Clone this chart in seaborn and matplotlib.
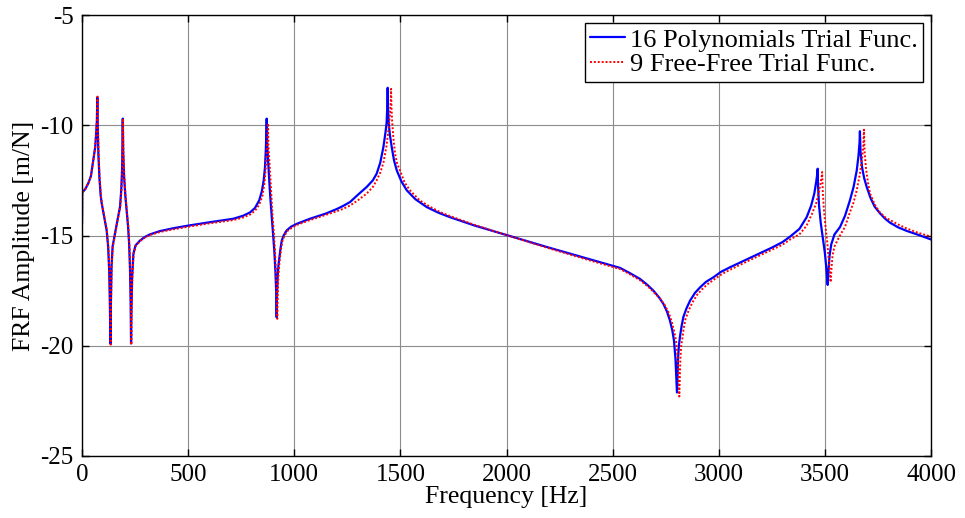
import matplotlib
matplotlib.use("Agg")
import matplotlib.pyplot as plt
import seaborn as sns
import pandas as pd

# ---- data ----
poly_freq = [0, 1, 15, 30, 42, 53, 62, 67, 70, 72, 74, 77, 82, 88, 93, 105, 116, 123, 128, 131, 134,
             136, 139, 144, 155, 167, 179, 185, 189, 192, 194, 198, 204, 210, 217, 222, 226, 229,
             231, 233, 236, 242, 252, 273, 295, 320, 367, 430, 501, 600, 713, 760, 792, 815, 835,
             847, 856, 862, 866, 869, 870, 872, 876, 883, 888, 894, 900, 906, 911, 915, 917, 919,
             922, 926, 930, 935, 941, 950, 964, 985, 1012, 1074, 1150, 1200, 1230, 1263, 1300, 1341,
             1370, 1388, 1405, 1420, 1430, 1435, 1438, 1440, 1442, 1445, 1450, 1459, 1470, 1483,
             1505, 1530, 1570, 1624, 1680, 1734, 1850, 2000, 2200, 2400, 2535, 2580, 2629, 2665,
             2692, 2718, 2739, 2756, 2770, 2781, 2789, 2796, 2803, 2808, 2812, 2817, 2825, 2833,
             2848, 2865, 2888, 2912, 2940, 2974, 3010, 3053, 3150, 3250, 3300, 3336, 3380, 3414, 3435,
             3450, 3460, 3464, 3466, 3468, 3472, 3480, 3490, 3500, 3507, 3513, 3517, 3522, 3530,
             3545, 3571, 3595, 3618, 3635, 3650, 3658, 3663, 3665, 3668, 3675, 3685, 3697, 3715,
             3735, 3760, 3785, 3807, 3845, 3885, 3940, 4000]
poly_amp = [-14.45, -13.05, -12.9, -12.62, -12.3, -11.6, -11.0, -10.3, -9.8, -8.74, -10.0, -11.3,
            -12.4, -13.2, -13.56, -14.2, -14.77, -15.5, -16.6, -18.0, -19.9, -18.0, -16.4, -15.5,
            -14.92, -14.3, -13.7, -12.9, -11.9, -9.7, -11.2, -12.3, -13.2, -13.86, -14.6, -15.4,
            -16.5, -18.0, -19.9, -18.3, -16.9, -15.83, -15.45, -15.23, -15.07, -14.95, -14.8,
            -14.67, -14.55, -14.4, -14.24, -14.1, -13.95, -13.75, -13.4, -13.0, -12.5, -11.9,
            -11.1, -10.2, -9.7, -10.8, -11.5, -12.65, -13.4, -14.17, -14.9, -15.7, -16.6, -17.6,
            -18.71, -17.6, -16.8, -16.3, -15.98, -15.6, -15.23, -15.0, -14.77, -14.6, -14.47,
            -14.24, -14.0, -13.8, -13.66, -13.48, -13.15, -12.8, -12.5, -12.2, -11.7, -10.98, -10.3,
            -9.9, -9.2, -8.3, -9.3, -9.9, -10.4, -10.98, -11.6, -12.05, -12.55, -12.95, -13.35,
            -13.71, -13.97, -14.17, -14.55, -14.98, -15.55, -16.1, -16.47, -16.7, -16.97, -17.25,
            -17.5, -17.8, -18.1, -18.45, -18.86, -19.3, -19.77, -20.6, -22.12, -20.6, -20.0,
            -19.6, -19.1, -18.7, -18.3, -17.95, -17.6, -17.35, -17.1, -16.9, -16.65, -16.44,
            -16.0, -15.55, -15.3, -15.05, -14.7, -14.17, -13.65, -13.1, -12.5, -12.2, -11.97, -12.8,
            -13.6, -14.4, -15.1, -15.8, -16.5, -17.24, -16.6, -15.9, -15.4, -14.95, -14.62, -14.1,
            -13.4, -12.8, -12.05, -11.4, -10.8, -10.27, -11.2, -11.9, -12.4, -12.8, -13.3,
            -13.7, -14.0, -14.25, -14.42, -14.63, -14.79, -14.97, -15.18]

ff_freq = [0, 1, 15, 30, 42, 53, 62, 67, 70, 73, 75, 78, 83, 89, 94, 106, 117, 124, 129, 132, 135,
           137, 140, 145, 156, 168, 180, 186, 190, 193, 195, 199, 205, 211, 218, 223, 227, 230,
           232, 234, 237, 243, 253, 274, 295, 320, 367, 430, 501, 600, 713, 760, 792, 815, 835,
           850, 860, 866, 871, 874, 876, 878, 882, 889, 894, 898, 904, 909, 914, 918, 920, 922,
           925, 929, 933, 938, 944, 953, 967, 988, 1012, 1074, 1150, 1200, 1230, 1263, 1300, 1341,
           1370, 1388, 1405, 1420, 1435, 1444, 1450, 1454, 1456, 1458, 1461, 1467, 1475, 1485,
           1498, 1520, 1545, 1590, 1640, 1690, 1734, 1850, 2000, 2200, 2400, 2535, 2580, 2629,
           2665, 2692, 2722, 2745, 2764, 2778, 2790, 2799, 2807, 2814, 2819, 2823, 2828, 2835,
           2843, 2858, 2875, 2897, 2920, 2948, 2980, 3018, 3060, 3150, 3250, 3300, 3336, 3380, 3414,
           3440, 3460, 3472, 3480, 3485, 3487, 3490, 3495, 3503, 3512, 3520, 3527, 3531, 3536,
           3545, 3560, 3571, 3595, 3618, 3635, 3650, 3665, 3675, 3681, 3684, 3687, 3694, 3703,
           3713, 3735, 3759, 3785, 3807, 3845, 3885, 3940, 4000]
ff_amp = [-14.45, -13.05, -12.9, -12.62, -12.3, -11.6, -11.0, -10.3, -9.8, -8.7, -10.0, -11.3,
          -12.4, -13.2, -13.56, -14.2, -14.77, -15.5, -16.6, -18.0, -19.95, -18.0, -16.4, -15.5,
          -14.92, -14.3, -13.7, -12.9, -11.9, -9.7, -11.2, -12.3, -13.2, -13.86, -14.6, -15.4,
          -16.5, -18.0, -19.95, -18.3, -16.9, -15.83, -15.47, -15.25, -15.1, -14.98, -14.84,
          -14.72, -14.6, -14.45, -14.3, -14.18, -14.05, -13.88, -13.6, -13.2, -12.6, -11.9,
          -11.0, -10.5, -9.92, -10.9, -11.5, -12.65, -13.4, -14.17, -14.9, -15.7, -16.7, -17.7,
          -18.78, -17.7, -16.9, -16.35, -15.98, -15.6, -15.25, -15.02, -14.8, -14.65, -14.52,
          -14.3, -14.06, -13.9, -13.79, -13.64, -13.4, -13.1, -12.8, -12.5, -12.15, -11.7, -10.9, -10.2,
          -9.6, -9.0, -8.35, -9.2, -9.8, -10.6, -11.3, -11.75, -12.05, -12.6, -12.95, -13.4,
          -13.7, -13.95, -14.12, -14.52, -14.98, -15.58, -16.15, -16.52, -16.75, -17.03, -17.3,
          -17.55, -17.85, -18.15, -18.5, -18.9, -19.35, -19.8, -20.6, -22.3, -20.6, -20.0, -19.7,
          -19.2, -18.8, -18.4, -18.05, -17.7, -17.45, -17.2, -16.98, -16.73, -16.52, -16.1,
          -15.65, -15.42, -15.18, -14.95, -14.55, -14.0, -13.5, -13.0, -12.6, -12.3, -12.12, -13.0,
          -13.8, -14.6, -15.4, -16.3, -17.12, -16.5, -15.9, -15.5, -15.2, -15.0, -14.6, -13.94,
          -13.5, -12.95, -12.2, -11.5, -10.9, -10.2, -11.2, -12.0, -12.6, -13.1, -13.6, -13.95,
          -14.18, -14.3, -14.5, -14.68, -14.88, -15.05]

series_labels = ["16 Polynomials Trial Func.", "9 Free-Free Trial Func."]
x_ticks = [0, 500, 1000, 1500, 2000, 2500, 3000, 3500, 4000]
y_ticks = [-25, -20, -15, -10, -5]

sns.set_theme(style="white")
plt.rcParams["font.family"] = ["Liberation Serif", "DejaVu Serif"]
plt.rcParams["axes.unicode_minus"] = False
plt.rcParams["text.color"] = "black"
plt.rcParams["axes.labelcolor"] = "black"
plt.rcParams["xtick.color"] = "black"
plt.rcParams["ytick.color"] = "black"

fig = plt.figure(figsize=(9.65, 5.18), dpi=100)
ax = fig.add_axes([0.085, 0.1197, 0.8798, 0.8513])

df1 = pd.DataFrame({"f": poly_freq, "a": poly_amp})
df2 = pd.DataFrame({"f": ff_freq, "a": ff_amp})

sns.lineplot(data=df1, x="f", y="a", ax=ax, color="#0000ff", linewidth=1.6,
             estimator=None, sort=False, label=series_labels[0])
sns.lineplot(data=df2, x="f", y="a", ax=ax, color="#ff0000", linewidth=1.4,
             linestyle=(0, (1, 1)), estimator=None, sort=False, label=series_labels[1])

ax.set_xlim(0, 4000)
ax.set_ylim(-25, -5)
ax.set_xticks(x_ticks)
ax.set_yticks(y_ticks)
ax.set_xticklabels([str(t) for t in x_ticks])
ax.set_yticklabels([str(t) for t in y_ticks])

ax.grid(True, color="#8c8c8c", linewidth=0.8, linestyle="-")
ax.set_axisbelow(True)
for s in ax.spines.values():
    s.set_color("black")
    s.set_linewidth(1.0)
    s.set_visible(True)

ax.tick_params(axis="both", which="both", direction="in", length=5, width=1,
               top=True, right=True, bottom=True, left=True,
               labelsize=18, colors="black", pad=6)

ax.set_xlabel("Frequency [Hz]", fontsize=18.5, labelpad=0, color="black")
ax.set_ylabel("FRF Amplitude [m/N]", fontsize=18.5, labelpad=4, color="black")

leg = ax.legend(loc="upper right", fontsize=19, frameon=True, fancybox=False,
                edgecolor="black", framealpha=1, handlelength=1.3, handletextpad=0.2,
                borderpad=0.2, labelspacing=0.05, borderaxespad=0.3)
leg.get_frame().set_linewidth(1.0)
for t in leg.get_texts():
    t.set_color("black")

fig.savefig("out.png", dpi=100)
